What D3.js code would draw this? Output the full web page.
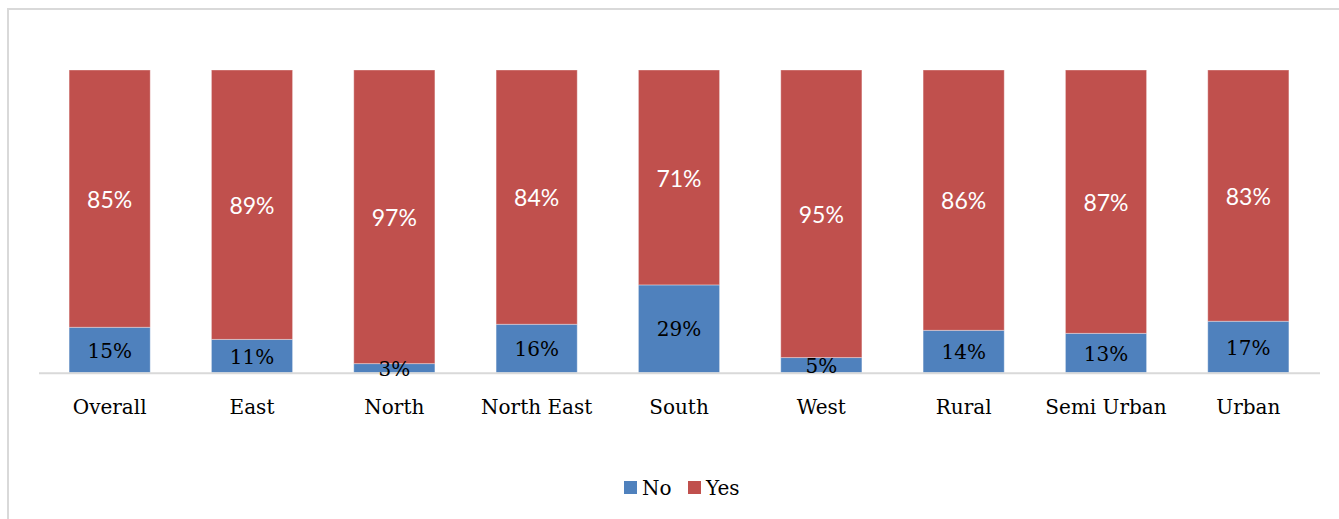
<!DOCTYPE html>
<html>
<head>
<meta charset="utf-8">
<script src="https://cdn.jsdelivr.net/npm/d3@7"></script>
<style>
  html, body { margin: 0; padding: 0; background: #fff; }
  svg { display: block; }
</style>
</head>
<body>
<svg id="chart" width="1339" height="519"></svg>
<script>
const categories = ["Overall", "East", "North", "North East", "South", "West", "Rural", "Semi Urban", "Urban"];
const noValues  = [15, 11, 3, 16, 29, 5, 14, 13, 17];
const yesValues = [85, 89, 97, 84, 71, 95, 86, 87, 83];
const seriesNames = ["No", "Yes"];
const yTicks = [0, 100];

const colors = { No: "#4F81BD", Yes: "#C0504D" };

const svg = d3.select("#chart");
const W = 1339, H = 519;

// chart border
svg.append("rect")
  .attr("x", 8).attr("y", 9)
  .attr("width", W + 20).attr("height", H + 20)
  .attr("fill", "#fff")
  .attr("stroke", "#d9d9d9")
  .attr("stroke-width", 2);

const plot = { left: 38.5, right: 1319.5, top: 70, bottom: 372.7 };

const data = categories.map((c, i) => ({ cat: c, No: noValues[i], Yes: yesValues[i] }));
const stack = d3.stack().keys(seriesNames)(data);

const x = d3.scaleBand()
  .domain(categories)
  .range([plot.left, plot.right])
  .paddingInner(0.43)
  .paddingOuter(0.215);

const y = d3.scaleLinear()
  .domain([yTicks[0], yTicks[1]])
  .range([plot.bottom, plot.top]);

// bars
const layers = svg.append("g").selectAll("g")
  .data(stack).enter().append("g")
  .attr("fill", d => colors[d.key]);

layers.selectAll("rect")
  .data(d => d)
  .enter().append("rect")
  .attr("x", d => x(d.data.cat))
  .attr("y", d => y(d[1]))
  .attr("width", x.bandwidth())
  .attr("height", d => y(d[0]) - y(d[1]))
  .attr("stroke", "rgba(255,255,255,0.35)")
  .attr("stroke-width", 1);

// axis line
const xAxis = d3.axisBottom(x).tickSize(0).tickPadding(27);
const ax = svg.append("g")
  .attr("transform", `translate(0,${plot.bottom})`)
  .call(xAxis);
ax.select(".domain").attr("stroke", "#d9d9d9").attr("stroke-width", 2);
ax.selectAll("text")
  .attr("font-family", "'DejaVu Serif', serif")
  .attr("font-size", 20)
  .attr("fill", "#000");

// data labels
stack.forEach(layer => {
  svg.append("g").selectAll("text")
    .data(layer)
    .enter().append("text")
    .attr("x", d => x(d.data.cat) + x.bandwidth() / 2)
    .attr("y", d => (y(d[0]) + y(d[1])) / 2)
    .attr("dy", layer.key === "Yes" ? "0.4em" : "0.38em")
    .attr("text-anchor", "middle")
    .attr("font-family", layer.key === "Yes" ? "Lato, sans-serif" : "'DejaVu Serif', serif")
    .attr("font-size", layer.key === "Yes" ? 23 : 20)
    .attr("fill", layer.key === "Yes" ? "#fff" : "#000")
    .text(d => (d[1] - d[0]) + "%");
});

// legend
const legend = svg.append("g").attr("transform", "translate(624,481)");
const legItems = [
  { key: "No", x: 0 },
  { key: "Yes", x: 64 }
];
legItems.forEach(it => {
  legend.append("rect")
    .attr("x", it.x).attr("y", 0)
    .attr("width", 13).attr("height", 13)
    .attr("fill", colors[it.key]);
  legend.append("text")
    .attr("x", it.x + 18).attr("y", 6.5)
    .attr("dy", "0.38em")
    .attr("font-family", "'DejaVu Serif', serif")
    .attr("font-size", 20)
    .attr("fill", "#000")
    .text(it.key);
});
</script>
</body>
</html>
